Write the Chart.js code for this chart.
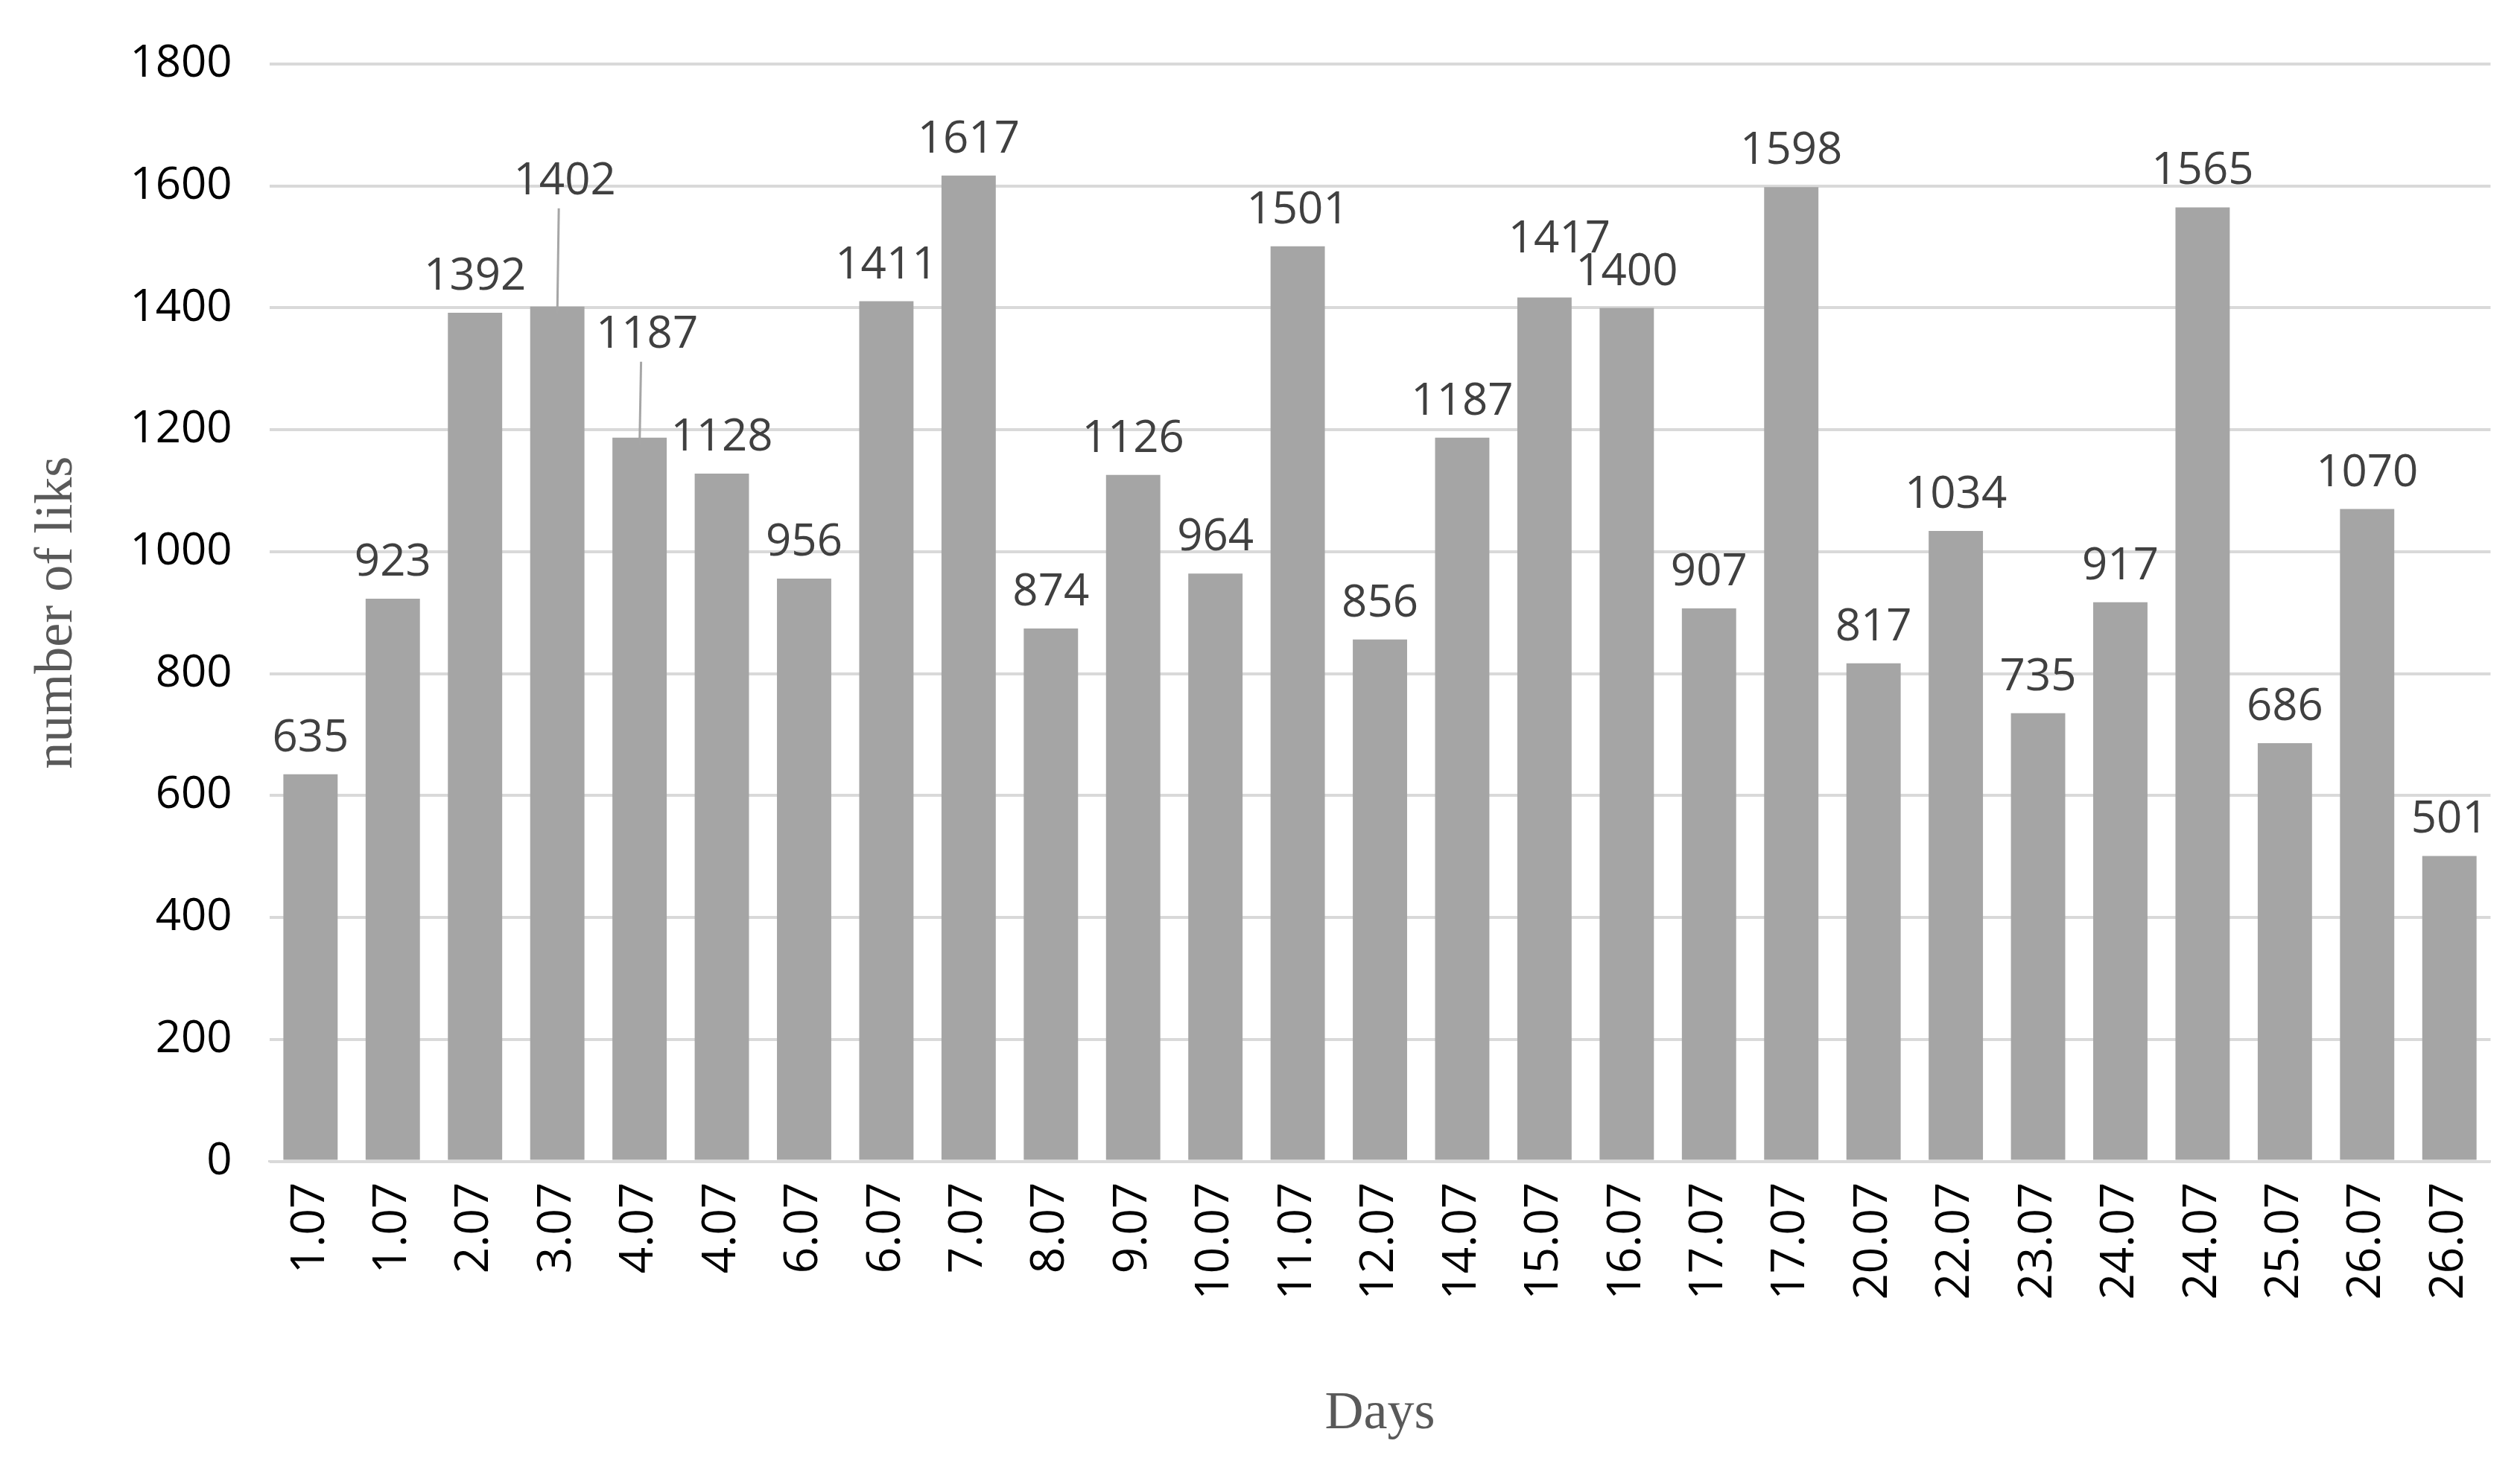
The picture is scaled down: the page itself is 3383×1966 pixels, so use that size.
<!DOCTYPE html>
<html>
<head>
<meta charset="utf-8">
<script src="https://cdn.jsdelivr.net/npm/chart.js@4"></script>
<style>
  html, body { margin: 0; padding: 0; background: #fff; }
  #wrap { width: 3383px; height: 1966px; }
</style>
</head>
<body>
<div id="wrap"><canvas id="likes"></canvas></div>
<script>
// chart data
const days = ['1.07','1.07','2.07','3.07','4.07','4.07','6.07','6.07','7.07','8.07','9.07','10.07','11.07','12.07',
              '14.07','15.07','16.07','17.07','17.07','20.07','22.07','23.07','24.07','24.07','25.07','26.07','26.07'];
const likes = [635, 923, 1392, 1402, 1187, 1128, 956, 1411, 1617, 874, 1126, 964, 1501, 856,
               1187, 1417, 1400, 907, 1598, 817, 1034, 735, 917, 1565, 686, 1070, 501];
const yTicks = [0, 200, 400, 600, 800, 1000, 1200, 1400, 1600, 1800];

// a few labels in the original were nudged to avoid overlap (dx, dy in px)
const labelNudge = { 3: [10, -120], 4: [10, -90], 15: [20, -30] };

const valueLabels = {
    id: 'valueLabels',
    afterDatasetsDraw(chart) {
        const ctx = chart.ctx;
        const meta = chart.getDatasetMeta(0);
        ctx.save();
        ctx.font = '60px "Open Sans", "Liberation Sans", sans-serif';
        ctx.fillStyle = '#404040';
        ctx.textAlign = 'center';
        ctx.textBaseline = 'bottom';
        meta.data.forEach((bar, i) => {
            const n = labelNudge[i] || [0, 0];
            const x = bar.x + n[0];
            const y = bar.y - 18 + n[1];
            if (labelNudge[i] && n[1] < -60) {
                ctx.strokeStyle = '#a6a6a6';
                ctx.lineWidth = 3;
                ctx.beginPath();
                ctx.moveTo(x - 8, y + 6);
                ctx.lineTo(bar.x, bar.y + 10);
                ctx.stroke();
            }
            ctx.fillText(likes[i], x, y);
        });
        ctx.restore();
    }
};

const ctx = document.getElementById('likes').getContext('2d');
new Chart(ctx, {
    type: 'bar',
    data: {
        labels: days,
        datasets: [{
            data: likes,
            backgroundColor: '#a5a5a5',
            barPercentage: 0.66,
            categoryPercentage: 1
        }]
    },
    options: {
        responsive: true,
        maintainAspectRatio: false,
        animation: false,
        layout: { padding: { top: 24, right: 20, left: 30, bottom: 20 } },
        plugins: { legend: { display: false }, tooltip: { enabled: false } },
        scales: {
            x: {
                grid: { display: false },
                border: { color: '#d9d9d9', width: 3 },
                ticks: {
                    color: '#000', padding: 20,
                    maxRotation: 90, minRotation: 90,
                    font: { size: 62, family: '"Open Sans", "Liberation Sans", sans-serif' }
                },
                title: {
                    display: true, text: 'Days', color: '#595959',
                    font: { size: 72, family: '"Liberation Serif", "DejaVu Serif", serif' },
                    padding: { top: 90 }
                }
            },
            y: {
                min: 0, max: 1800,
                afterBuildTicks(axis) { axis.ticks = yTicks.map(v => ({ value: v })); },
                grid: { color: '#d9d9d9', lineWidth: 4, drawTicks: false },
                border: { display: false },
                ticks: {
                    color: '#000', padding: 50,
                    callback: v => String(v),
                    font: { size: 60, family: '"Open Sans", "Liberation Sans", sans-serif' }
                },
                title: {
                    display: true, text: 'number of liks', color: '#595959',
                    font: { size: 72, family: '"Liberation Serif", "DejaVu Serif", serif' }
                }
            }
        }
    },
    plugins: [valueLabels]
});
</script>
</body>
</html>
